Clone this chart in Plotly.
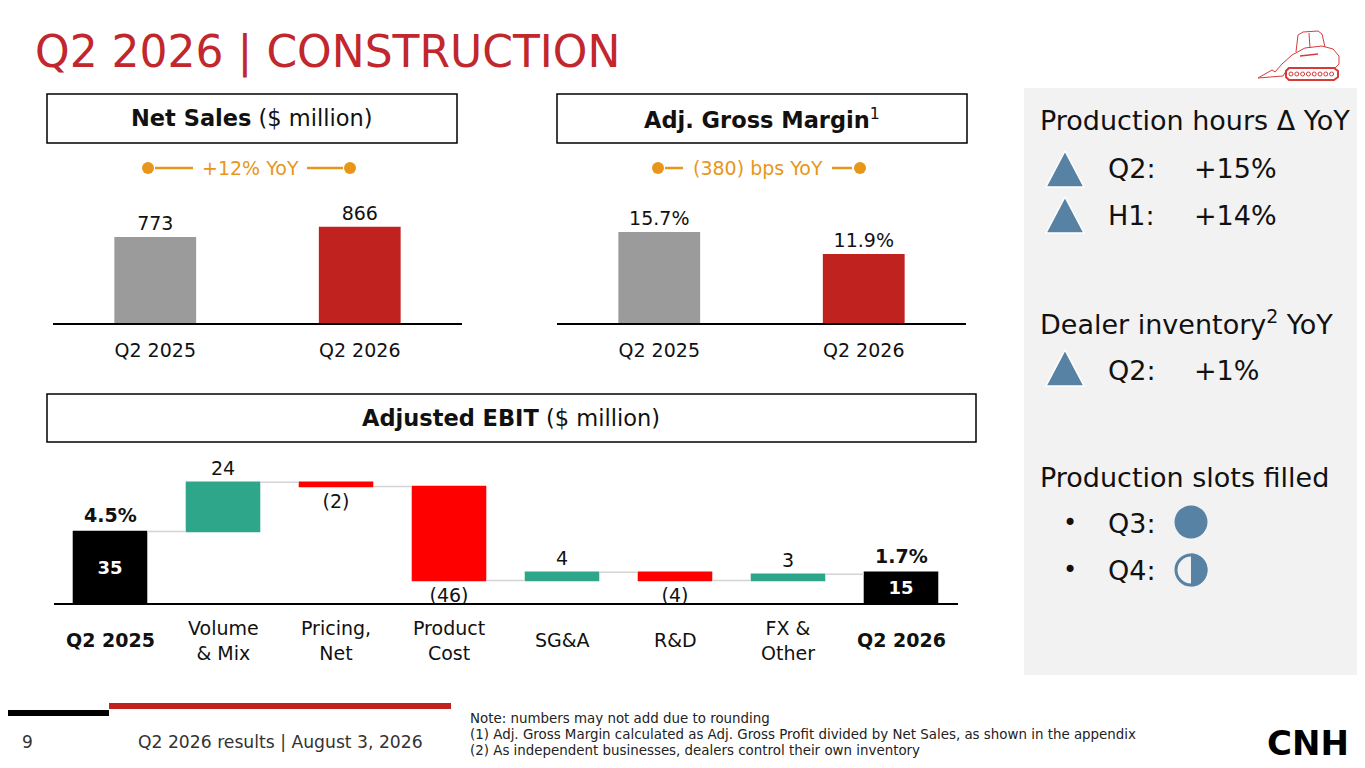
import plotly.graph_objects as go

# page body has an 8px default margin: size the figure so that it fills the window exactly
OFF = 8
W, H = 1365 - OFF, 768 - OFF


def X(p):
    return (p - OFF) / W


def Y(p):
    return 1 - (p - OFF) / H


# ---------------- data ----------------
sales_cats = ["Q2 2025", "Q2 2026"]
sales_vals = [773, 866]
sales_text = ["773", "866"]

margin_cats = ["Q2 2025", "Q2 2026"]
margin_vals = [15.7, 11.9]
margin_text = ["15.7%", "11.9%"]

ebit_keys = ["Q2 2025", "Volume & Mix", "Pricing, Net", "Product Cost", "SG&A", "R&D", "FX & Other", "Q2 2026"]
ebit_labels = ["<b>Q2 2025</b>", "Volume<br>& Mix", "Pricing,<br>Net", "Product<br>Cost", "SG&A", "R&D", "FX &<br>Other", "<b>Q2 2026</b>"]
ebit_vals = [35, 24, -2, -46, 4, -4, 3, 15]
ebit_measure = ["absolute", "relative", "relative", "relative", "relative", "relative", "relative", "absolute"]
ebit_text = ["<b>35</b>", "24", "(2)", "(46)", "4", "(4)", "3", "<b>15</b>"]
ebit_margin_cats = ["Q2 2025", "Q2 2026"]
ebit_margin_vals = [35, 15]
ebit_margin_text = ["4.5%", "1.7%"]

notes = ["Note: numbers may not add due to rounding",
         "(1) Adj. Gross Margin calculated as Adj. Gross Profit divided by Net Sales, as shown in the appendix",
         "(2) As independent businesses, dealers control their own inventory"]

FONT = "DejaVu Sans, Verdana, sans-serif"
TXT = "#111111"
GRAY = "#9B9B9B"
RED = "#C0221F"
TITLE_RED = "#C1272D"
ORANGE = "#E8961A"
TEAL = "#2EA68A"
BRIGHT_RED = "#FF0000"
BLUE = "#5782A4"
PANEL = "#F2F2F2"

fig = go.Figure()

fig.add_trace(go.Bar(
    x=sales_cats, y=sales_vals, marker=dict(color=[GRAY, RED], line=dict(width=0)),
    width=0.4, text=sales_text, textposition="outside",
    textfont=dict(size=19, color=TXT, family=FONT), cliponaxis=False,
    xaxis="x", yaxis="y", hoverinfo="skip"))

fig.add_trace(go.Bar(
    x=margin_cats, y=margin_vals, marker=dict(color=[GRAY, RED], line=dict(width=0)),
    width=0.4, text=margin_text, textposition="outside",
    textfont=dict(size=19, color=TXT, family=FONT), cliponaxis=False,
    xaxis="x2", yaxis="y2", hoverinfo="skip"))

fig.add_trace(go.Waterfall(
    x=ebit_keys, y=ebit_vals, measure=ebit_measure, text=ebit_text,
    textposition=["inside", "outside", "outside", "outside", "outside", "outside", "outside", "inside"],
    insidetextanchor="middle", constraintext="none",
    insidetextfont=dict(size=18, color="white", family=FONT),
    outsidetextfont=dict(size=19, color=TXT, family=FONT),
    width=0.66,
    increasing=dict(marker=dict(color=TEAL, line=dict(width=0))),
    decreasing=dict(marker=dict(color=BRIGHT_RED, line=dict(width=0))),
    totals=dict(marker=dict(color="#000000", line=dict(width=0))),
    connector=dict(line=dict(color="#D4D4D4", width=1.5)),
    cliponaxis=False, xaxis="x3", yaxis="y3", hoverinfo="skip"))

common_x = dict(showline=True, linecolor="#000000", linewidth=2, ticks="", showgrid=False,
                zeroline=False, fixedrange=True, ticklabelstandoff=9,
                tickfont=dict(size=19, color=TXT, family=FONT))
common_y = dict(visible=False, showgrid=False, zeroline=False, fixedrange=True)

shapes = []
annotations = []

# right panel background
shapes.append(dict(type="rect", xref="paper", yref="paper", x0=X(1024), x1=X(1366), y0=Y(675), y1=Y(88),
                   fillcolor=PANEL, line=dict(width=0), layer="below"))

# header boxes
for (x0, x1, y0, y1, txt) in [
        (47, 457, 94, 143, "<b>Net Sales</b> ($ million)"),
        (557, 967, 94, 143, "<b>Adj. Gross Margin</b><sup>1</sup>"),
        (47, 976, 394, 442, "<b>Adjusted EBIT</b> ($ million)")]:
    shapes.append(dict(type="rect", xref="paper", yref="paper", x0=X(x0), x1=X(x1), y0=Y(y1), y1=Y(y0),
                       fillcolor="white", line=dict(color="#000000", width=1.5)))
    annotations.append(dict(xref="paper", yref="paper", x=X((x0 + x1) / 2), y=Y((y0 + y1) / 2),
                            text=txt, showarrow=False, xanchor="center", yanchor="middle",
                            font=dict(size=22.5, color=TXT, family=FONT)))

# YoY connectors
for (d1, l1a, l1b, tx, txt, l2a, l2b, d2) in [
        (148, 155, 193, 250, "+12% YoY", 307, 343, 350),
        (658, 665, 683, 758, "(380) bps YoY", 832, 852, 860)]:
    yy = Y(168)
    for d in (d1, d2):
        shapes.append(dict(type="circle", xref="paper", yref="paper", x0=X(d - 6), x1=X(d + 6),
                           y0=Y(168 + 6), y1=Y(168 - 6), fillcolor=ORANGE, line=dict(width=0)))
    for (a, b) in ((l1a, l1b), (l2a, l2b)):
        shapes.append(dict(type="line", xref="paper", yref="paper", x0=X(a), x1=X(b), y0=yy, y1=yy,
                           line=dict(color=ORANGE, width=2.5)))
    annotations.append(dict(xref="paper", yref="paper", x=X(tx), y=yy, text=txt, showarrow=False,
                            xanchor="center", yanchor="middle", font=dict(size=19, color=ORANGE, family=FONT)))

# waterfall category labels
for k, lab in zip(ebit_keys, ebit_labels):
    annotations.append(dict(xref="x3", yref="paper", x=k, y=Y(640), text=lab, showarrow=False,
                            xanchor="center", yanchor="middle", align="center",
                            font=dict(size=19, color=TXT, family=FONT)))

# margin % labels above total bars
for k, v, t in zip(ebit_margin_cats, ebit_margin_vals, ebit_margin_text):
    annotations.append(dict(xref="x3", yref="y3", x=k, y=v, text="<b>" + t + "</b>", showarrow=False,
                            xanchor="center", yanchor="bottom", yshift=3,
                            font=dict(size=19, color=TXT, family=FONT)))

# title
annotations.append(dict(xref="paper", yref="paper", x=X(33), y=Y(52), text="Q2 2026 | CONSTRUCTION",
                        showarrow=False, xanchor="left", yanchor="middle",
                        font=dict(size=44, color=TITLE_RED, family=FONT)))

# right panel text
panel_rows = [
    (120, 1038, "Production hours Δ YoY"),
    (169, 1106, "Q2:"), (169, 1192, "+15%"),
    (216, 1106, "H1:"), (216, 1192, "+14%"),
    (322, 1038, "Dealer inventory<sup>2</sup> YoY"),
    (370, 1106, "Q2:"), (370, 1192, "+1%"),
    (477, 1038, "Production slots filled"),
    (523, 1061, "•"), (523, 1106, "Q3:"),
    (570, 1061, "•"), (570, 1106, "Q4:"),
]
for (yy, xx, t) in panel_rows:
    annotations.append(dict(xref="paper", yref="paper", x=X(xx), y=Y(yy), text=t, showarrow=False,
                            xanchor="left", yanchor="middle",
                            font=dict(size=27 if t != "•" else 24, color=TXT, family=FONT)))

# triangles
for cy in (169, 215, 368):
    x0, x1, xm = 1046, 1084, 1065
    ytop, ybot = cy - 18, cy + 18
    path = "M {:.5f} {:.5f} L {:.5f} {:.5f} L {:.5f} {:.5f} Z".format(
        X(x0), Y(ybot), X(x1), Y(ybot), X(xm), Y(ytop))
    shapes.append(dict(type="path", xref="paper", yref="paper", path=path, fillcolor=BLUE,
                       line=dict(color="white", width=1.5)))

# Q3 full circle
r = 16.5
shapes.append(dict(type="circle", xref="paper", yref="paper", x0=X(1191 - r), x1=X(1191 + r),
                   y0=Y(522 + r), y1=Y(522 - r), fillcolor=BLUE, line=dict(width=0)))
# Q4 half circle
cx, cy = 1191, 570
shapes.append(dict(type="circle", xref="paper", yref="paper", x0=X(cx - r + 1.5), x1=X(cx + r - 1.5),
                   y0=Y(cy + r - 1.5), y1=Y(cy - r + 1.5), fillcolor=PANEL, line=dict(color=BLUE, width=3)))
k = 0.5523 * r
half = ("M {a} {b} C {c} {d} {e} {f} {g} {h} C {i} {j} {l} {m} {n} {o} Z").format(
    a=X(cx), b=Y(cy - r),
    c=X(cx + k), d=Y(cy - r), e=X(cx + r), f=Y(cy - k), g=X(cx + r), h=Y(cy),
    i=X(cx + r), j=Y(cy + k), l=X(cx + k), m=Y(cy + r), n=X(cx), o=Y(cy + r))
shapes.append(dict(type="path", xref="paper", yref="paper", path=half, fillcolor=BLUE, line=dict(width=0)))

# construction icon (simplified skid steer outline)
IC = "#D83A3A"


def P(points, close=True):
    s = "M " + " L ".join("{:.5f} {:.5f}".format(X(px), Y(py)) for px, py in points)
    return s + (" Z" if close else "")


shapes.append(dict(type="path", xref="paper", yref="paper",
                   path=P([(1258, 78), (1272, 70), (1275, 72), (1282, 64), (1292, 55), (1305, 48),
                           (1322, 46), (1333, 49), (1339, 56), (1339, 64), (1335, 68), (1288, 68), (1283, 76)]),
                   fillcolor="rgba(0,0,0,0)", line=dict(color=IC, width=1)))
shapes.append(dict(type="path", xref="paper", yref="paper",
                   path=P([(1296, 52), (1298, 35), (1303, 32), (1318, 31), (1322, 34), (1325, 47)], close=False),
                   fillcolor="rgba(0,0,0,0)", line=dict(color=IC, width=1)))
shapes.append(dict(type="line", xref="paper", yref="paper", x0=X(1309), x1=X(1310), y0=Y(33), y1=Y(48),
                   line=dict(color=IC, width=1)))
shapes.append(dict(type="line", xref="paper", yref="paper", x0=X(1300), x1=X(1318), y0=Y(56), y1=Y(54),
                   line=dict(color=IC, width=1.5)))
shapes.append(dict(type="path", xref="paper", yref="paper",
                   path=P([(1289, 68), (1334, 68), (1338, 71), (1338, 77), (1334, 80), (1289, 80), (1286, 77), (1286, 71)]),
                   fillcolor="rgba(0,0,0,0)", line=dict(color=IC, width=2)))
for i in range(8):
    cxx = 1291 + i * 5.8
    shapes.append(dict(type="circle", xref="paper", yref="paper", x0=X(cxx - 2), x1=X(cxx + 2),
                       y0=Y(76), y1=Y(72), fillcolor="rgba(0,0,0,0)", line=dict(color=IC, width=1)))

# footer bars
shapes.append(dict(type="rect", xref="paper", yref="paper", x0=X(0), x1=X(109), y0=Y(716), y1=Y(710),
                   fillcolor="#000000", line=dict(width=0)))
shapes.append(dict(type="rect", xref="paper", yref="paper", x0=X(109), x1=X(451), y0=Y(709), y1=Y(703),
                   fillcolor=RED, line=dict(width=0)))

annotations.append(dict(xref="paper", yref="paper", x=X(20), y=Y(742), text="9", showarrow=False,
                        xanchor="left", yanchor="middle", font=dict(size=17, color="#333333", family=FONT)))
annotations.append(dict(xref="paper", yref="paper", x=X(136), y=Y(742), text="Q2 2026 results | August 3, 2026",
                        showarrow=False, xanchor="left", yanchor="middle",
                        font=dict(size=17.2, color="#333333", family=FONT)))
for i, line in enumerate(notes):
    annotations.append(dict(xref="paper", yref="paper", x=X(468), y=Y(718 + 16 * i), text=line,
                            showarrow=False, xanchor="left", yanchor="middle", align="left",
                            font=dict(size=13.4, color="#222222", family=FONT)))
annotations.append(dict(xref="paper", yref="paper", x=X(1308), y=Y(743), text="<b>CNH</b>", showarrow=False,
                        xanchor="center", yanchor="middle",
                        font=dict(size=34, color="#000000", family=FONT)))

fig.update_layout(
    width=W, height=H, margin=dict(l=0, r=0, t=0, b=0),
    paper_bgcolor="white", plot_bgcolor="rgba(0,0,0,0)",
    showlegend=False, font=dict(family=FONT, color=TXT),
    xaxis=dict(domain=[X(53), X(462)], range=[-0.5, 1.5], anchor="y", **common_x),
    yaxis=dict(domain=[Y(323), Y(190)], range=[0, 133 * 773 / 86], anchor="x", **common_y),
    xaxis2=dict(domain=[X(557), X(966)], range=[-0.5, 1.5], anchor="y2", **common_x),
    yaxis2=dict(domain=[Y(323), Y(190)], range=[0, 133 / 5.797], anchor="x2", **common_y),
    xaxis3=dict(domain=[X(53.5), X(957.5)], range=[-0.5, 7.5], anchor="y3",
                **{**common_x, "showticklabels": False}),
    yaxis3=dict(domain=[Y(603), Y(460)], range=[0, 143 / 2.045], anchor="x3", **common_y),
    shapes=shapes, annotations=annotations,
)

fig.write_html("out.html")
